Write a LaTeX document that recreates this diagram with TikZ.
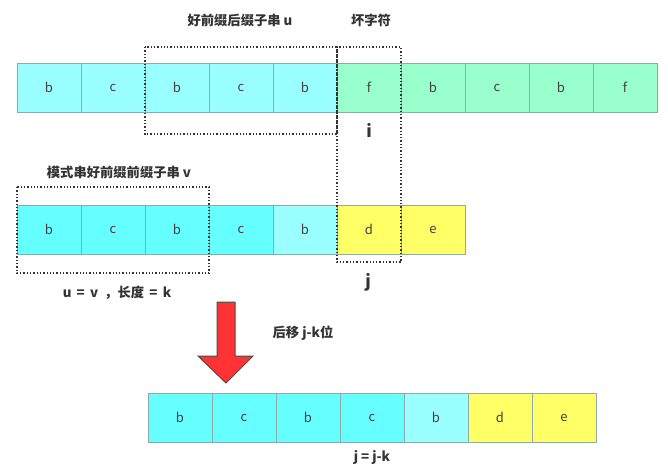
\documentclass[tikz,border=0pt]{standalone}
\usepackage{fontspec}
\setmainfont{Noto Sans CJK SC}
\usetikzlibrary{positioning,calc}
\definecolor{cyanA}{HTML}{99FFFF}
\definecolor{cyanB}{HTML}{66FFFF}
\definecolor{mint}{HTML}{99FFCC}
\definecolor{yel}{HTML}{FFFF66}
\definecolor{edgegray}{HTML}{8FA8A8}
\definecolor{arrowred}{HTML}{FF3333}
\tikzset{
  cell/.style={draw=edgegray, line width=1pt, minimum width=64pt, minimum height=49pt,
    inner sep=0pt, outer sep=0pt, font=\fontsize{13}{13}\selectfont, text=black!75},
  dotbox/.style={draw=black!80, dotted, line width=1.3pt},
  lbl/.style={font=\bfseries\fontsize{13.3}{15}\selectfont, text=black!80},
  idx/.style={font=\bfseries\fontsize{17}{17}\selectfont, text=black!80}
}
\begin{document}
\begin{tikzpicture}[x=1pt, y=-1pt]
\useasboundingbox (0,0) rectangle (668,474);
% main text
\node[cell, fill=cyanA] (t1) at (49,87.5) {b};
\node[cell, fill=cyanA, right=0pt of t1] (t2) {c};
\node[cell, fill=cyanA, right=0pt of t2] (t3) {b};
\node[cell, fill=cyanA, right=0pt of t3] (t4) {c};
\node[cell, fill=cyanA, right=0pt of t4] (t5) {b};
\node[cell, fill=mint, right=0pt of t5] (t6) {f};
\node[cell, fill=mint, right=0pt of t6] (t7) {b};
\node[cell, fill=mint, right=0pt of t7] (t8) {c};
\node[cell, fill=mint, right=0pt of t8] (t9) {b};
\node[cell, fill=mint, right=0pt of t9] (t10) {f};
% pattern
\node[cell, fill=cyanB] (p1) at (49,229.5) {b};
\node[cell, fill=cyanB, right=0pt of p1] (p2) {c};
\node[cell, fill=cyanB, right=0pt of p2] (p3) {b};
\node[cell, fill=cyanB, right=0pt of p3] (p4) {c};
\node[cell, fill=cyanA, right=0pt of p4] (p5) {b};
\node[cell, fill=yel, right=0pt of p5] (p6) {d};
\node[cell, fill=yel, right=0pt of p6] (p7) {e};
% pattern after the shift
\node[cell, fill=cyanB] (s1) at (180,417.5) {b};
\node[cell, fill=cyanB, right=0pt of s1] (s2) {c};
\node[cell, fill=cyanB, right=0pt of s2] (s3) {b};
\node[cell, fill=cyanB, right=0pt of s3] (s4) {c};
\node[cell, fill=cyanA, right=0pt of s4] (s5) {b};
\node[cell, fill=yel, right=0pt of s5] (s6) {d};
\node[cell, fill=yel, right=0pt of s6] (s7) {e};

\draw[dotbox] ($(t3.north west)+(0,-16)$) rectangle ($(t5.south east)+(0,22)$);
\draw[dotbox] ($(t6.north west)+(0,-16)$) rectangle ($(p6.south east)+(0,8)$);
\draw[dotbox] ($(p1.north west)+(0,-18)$) rectangle ($(p3.south east)+(0,19)$);

\node[lbl] (good) at (240,20) {好前缀后缀子串 u};
\node[lbl] (bad) at (371,20) {坏字符};
\node[idx] (i) at (369,130) {i};
\node[lbl] (pref) at (119,172) {模式串好前缀前缀子串 v};
\node[lbl] (eq) at (117,293) {u\ \,=\ \,v\ \ ，长度\ \,=\ \,k};
\node[idx] (j) at (368,282) {j};
\node[lbl] (move) at (303,333) {后移 j-k位};
\node[lbl] (newj) at (372,457) {j\ =\ j-k};

% shift arrow
\draw[fill=arrowred, draw=black!70, line width=1pt, line join=miter]
  (217,302) -- (235,302) -- (235,356) -- (253,356) -- (226,383) -- (198,356) -- (217,356) -- cycle;
\end{tikzpicture}
\end{document}
